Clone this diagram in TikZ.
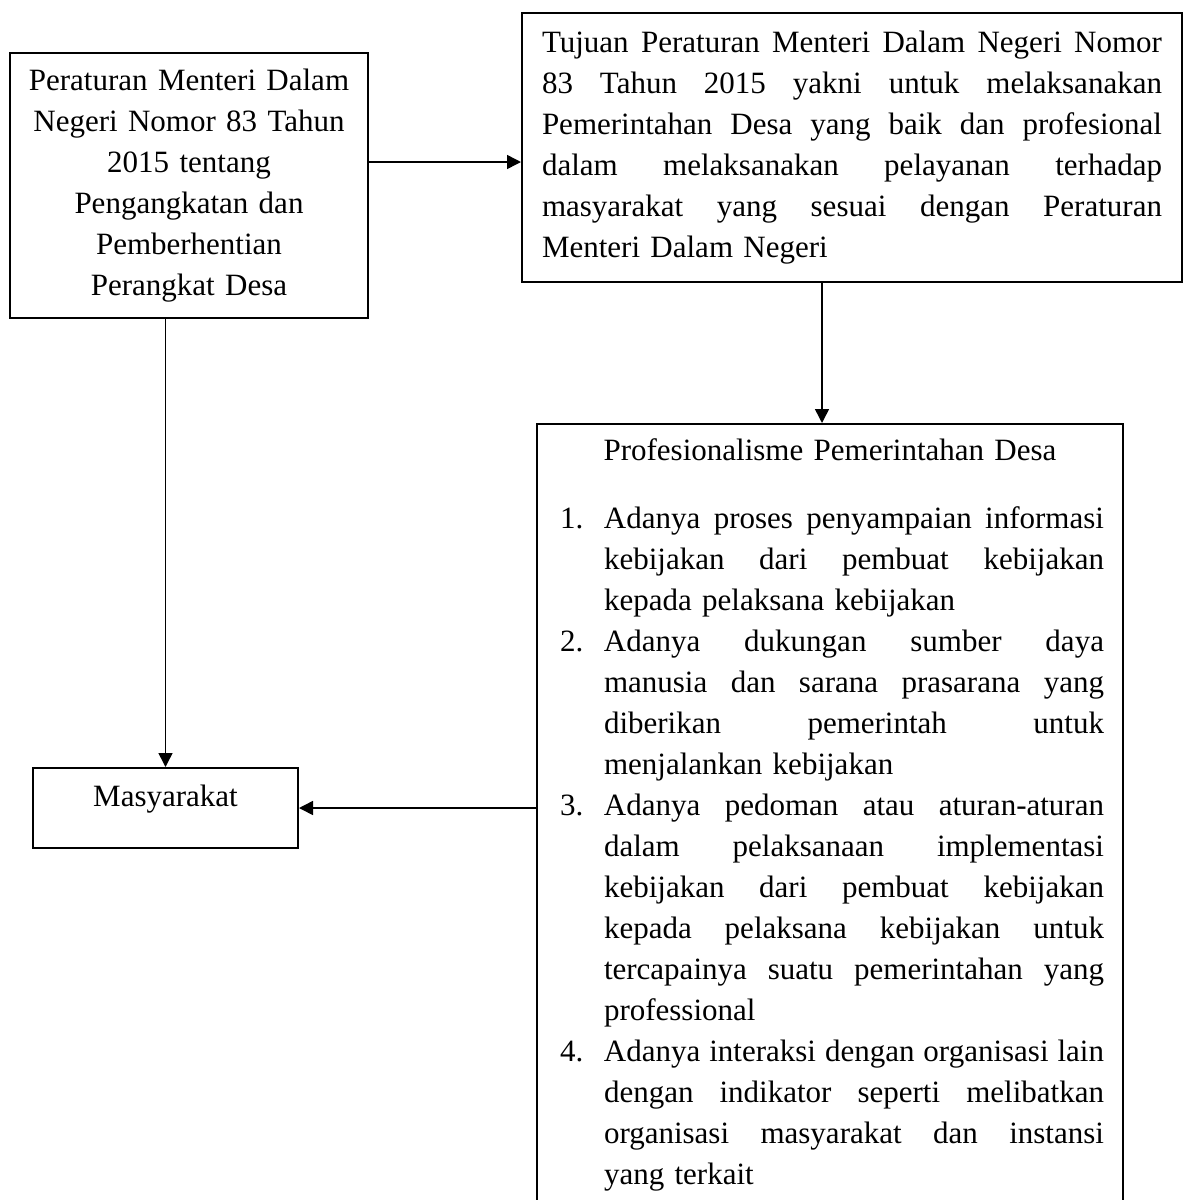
\documentclass[tikz,border=0pt]{standalone}
\usepackage{fontspec}
\setmainfont{Liberation Serif}
\usetikzlibrary{arrows.meta}
\tikzstyle{kotak}=[shape=rectangle, draw=black, line width=1pt, fill=white, font=\fontsize{15.5pt}{20.5pt}\selectfont]
\tikzstyle{panah}=[line width=0.75pt, -{Triangle[length=7pt,width=7pt]}]
\newcommand{\rata}[1]{\hbox to\linewidth{\spaceskip=.25em plus 1fil\relax#1}}
\newcommand{\butir}[2]{\hbox{\hskip11.5pt\makebox[22pt][l]{#1}\hbox to250pt{\spaceskip=.25em plus 1fil\relax#2}}}
\newcommand{\lanjut}[1]{\hbox{\hskip33.5pt\hbox to250pt{\spaceskip=.25em plus 1fil\relax#1}}}
\newcommand{\akhir}[1]{\hbox{\hskip33.5pt #1}}

\begin{document}
\begin{tikzpicture}[x=0.5pt, y=-0.5pt]
\useasboundingbox (0,0) rectangle (1188,1200);
\clip (0,0) rectangle (1188,1200);
\node[kotak, minimum width=179pt, minimum height=132.5pt, text width=170pt, align=center] (kiri) at (189,185.5) {Peraturan Menteri Dalam\\ Negeri Nomor 83 Tahun\\ 2015 tentang\\ Pengangkatan dan\\ Pemberhentian\\ Perangkat Desa};
\node[kotak, minimum width=330pt, minimum height=134.5pt, text width=310pt] (tujuan) at (852,147.5) {\rata{Tujuan Peraturan Menteri Dalam Negeri Nomor}
\rata{83 Tahun 2015 yakni untuk melaksanakan}
\rata{Pemerintahan Desa yang baik dan profesional}
\rata{dalam melaksanakan pelayanan terhadap}
\rata{masyarakat yang sesuai dengan Peraturan}
\hbox{Menteri Dalam Negeri}};
%daftar profesionalisme
\node[kotak, anchor=north west, text width=293pt, inner xsep=0pt, inner ysep=7.4pt] (profesional) at (536,423) {{\centering Profesionalisme Pemerintahan Desa\par}
\vspace{13.5pt}
\butir{1.}{Adanya proses penyampaian informasi}
\lanjut{kebijakan dari pembuat kebijakan}
\akhir{kepada pelaksana kebijakan}
\butir{2.}{Adanya dukungan sumber daya}
\lanjut{manusia dan sarana prasarana yang}
\lanjut{diberikan pemerintah untuk}
\akhir{menjalankan kebijakan}
\butir{3.}{Adanya pedoman atau aturan-aturan}
\lanjut{dalam pelaksanaan implementasi}
\lanjut{kebijakan dari pembuat kebijakan}
\lanjut{kepada pelaksana kebijakan untuk}
\lanjut{tercapainya suatu pemerintahan yang}
\akhir{professional}
\butir{4.}{Adanya interaksi dengan organisasi lain}
\lanjut{dengan indikator seperti melibatkan}
\lanjut{organisasi masyarakat dan instansi}
\akhir{yang terkait}
\vspace{10pt}\mbox{}};
\node[kotak, minimum width=132.5pt, inner ysep=0pt, text height=19pt, text depth=21pt] (masyarakat) at (165.5,808) {Masyarakat};
%panah
\draw[panah] (kiri.east |- 0,162) -- (tujuan.west |- 0,162);
\draw[panah] (tujuan.south -| 822,0) -- (profesional.north -| 822,0);
\draw[panah] (kiri.south -| masyarakat.north) -- (masyarakat.north);
\draw[panah] (profesional.west |- masyarakat.east) -- (masyarakat.east);
\end{tikzpicture}
\end{document}
